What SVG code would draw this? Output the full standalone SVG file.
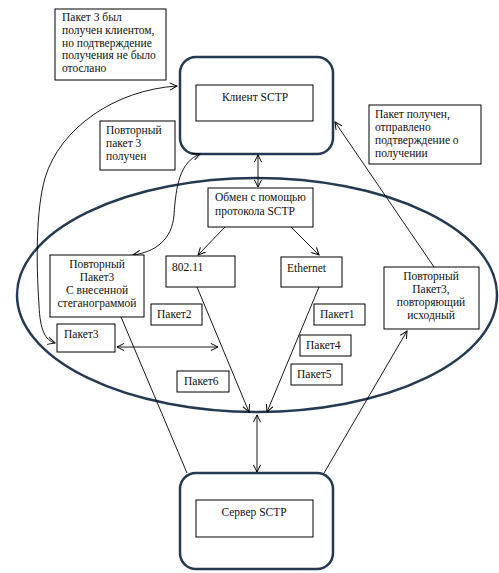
<svg xmlns="http://www.w3.org/2000/svg" width="499" height="573" viewBox="0 0 499 573">
<style>
.t{font-family:"Liberation Serif","Times New Roman",serif;font-size:11.5px;fill:#111}
.c{text-anchor:middle}
.b{fill:#fff;stroke:#000;stroke-width:1}
.r{fill:#fff;stroke:#243a52;stroke-width:2.5}
.l{fill:none;stroke:#000;stroke-width:0.9}
.a{marker-end:url(#ar)}
.d{marker-start:url(#ar);marker-end:url(#ar)}
</style>
<defs>
<marker id="ar" viewBox="0 0 10 10" refX="9" refY="5" markerWidth="9" markerHeight="9" markerUnits="userSpaceOnUse" orient="auto-start-reverse">
<path d="M1,1 L9,5 L1,9" fill="none" stroke="#000" stroke-width="1.1"/>
</marker>
</defs>
<rect width="499" height="573" fill="#fff"/>
<g id="client"><rect class="r" x="180" y="57" width="153" height="97" rx="16"/><rect class="b" x="196" y="85" width="117" height="36"/><text class="t c" x="255" y="101">Клиент SCTP</text></g>
<g id="server"><rect class="r" x="180" y="473" width="153" height="96" rx="16"/><rect class="b" x="196" y="500" width="117" height="37"/><text class="t c" x="254" y="516">Сервер SCTP</text></g>
<g id="network"><ellipse cx="257" cy="295" rx="240" ry="117" fill="none" stroke="#243a52" stroke-width="2.5"/></g>
<g id="connectors">
<line class="l d" x1="258" y1="155" x2="258" y2="187"/>
<line class="l a" x1="225" y1="227" x2="198" y2="255"/>
<line class="l a" x1="291" y1="227" x2="319" y2="255"/>
<line class="l a" x1="197" y1="287" x2="249" y2="412"/>
<line class="l a" x1="319" y1="287" x2="267" y2="412"/>
<line class="l d" x1="257" y1="415" x2="257" y2="472"/>
<line class="l d" x1="117" y1="347" x2="218" y2="347"/>
<line class="l" x1="121" y1="317" x2="187" y2="473"/>
<line class="l a" x1="324" y1="473" x2="407" y2="331"/>
<line class="l a" x1="434" y1="267" x2="335" y2="122"/>
<path class="l d" d="M133,255 C155,252 172,240 174,215 C176,185 180,162 200,154"/>
<path class="l d" d="M55,343 C45,340 40,330 39,305 C36,260 36,210 45,178 C60,128 115,90 177,86"/>
</g>
<g id="note-lost"><rect class="b" x="55" y="9" width="111" height="71"/><text class="t" x="62" y="21">Пакет 3 был</text><text class="t" x="62" y="34">получен клиентом,</text><text class="t" x="62" y="47">но подтверждение</text><text class="t" x="62" y="59">получения не было</text><text class="t" x="62" y="72">отослано</text></g>
<g id="note-repeat"><rect class="b" x="100" y="121" width="75" height="49"/><text class="t" x="106" y="134">Повторный</text><text class="t" x="106" y="147">пакет 3</text><text class="t" x="106" y="160">получен</text></g>
<g id="note-ack"><rect class="b" x="369" y="105" width="112" height="59"/><text class="t" x="375" y="118">Пакет получен,</text><text class="t" x="375" y="131">отправлено</text><text class="t" x="375" y="144">подтверждение о</text><text class="t" x="375" y="157">получении</text></g>
<g id="exchange"><rect class="b" x="208" y="188" width="105" height="39"/><text class="t" x="215" y="201">Обмен с помощью</text><text class="t" x="215" y="215">протокола SCTP</text></g>
<g id="wifi"><rect class="b" x="166" y="256" width="69" height="31"/><text class="t" x="172" y="271">802.11</text></g>
<g id="ethernet"><rect class="b" x="281" y="257" width="61" height="30"/><text class="t" x="287" y="272">Ethernet</text></g>
<g id="steg"><rect class="b" x="50" y="255" width="94" height="62"/><text class="t c" x="97" y="268">Повторный</text><text class="t c" x="97" y="281">Пакет3</text><text class="t c" x="97" y="294">С внесенной</text><text class="t c" x="97" y="307">стеганограммой</text></g>
<g id="dup"><rect class="b" x="384" y="267" width="95" height="62"/><text class="t c" x="431" y="280">Повторный</text><text class="t c" x="431" y="293">Пакет3,</text><text class="t c" x="431" y="306">повторяющий</text><text class="t c" x="431" y="319">исходный</text></g>
<g id="p3"><rect class="b" x="57" y="324" width="58" height="28"/><text class="t" x="64" y="338">Пакет3</text></g>
<g id="p2"><rect class="b" x="151" y="304" width="51" height="21"/><text class="t" x="157" y="318">Пакет2</text></g>
<g id="p1"><rect class="b" x="314" y="304" width="51" height="21"/><text class="t" x="320" y="318">Пакет1</text></g>
<g id="p4"><rect class="b" x="300" y="335" width="51" height="21"/><text class="t" x="306" y="349">Пакет4</text></g>
<g id="p5"><rect class="b" x="291" y="364" width="51" height="21"/><text class="t" x="297" y="378">Пакет5</text></g>
<g id="p6"><rect class="b" x="177" y="371" width="52" height="21"/><text class="t" x="184" y="385">Пакет6</text></g>
</svg>
